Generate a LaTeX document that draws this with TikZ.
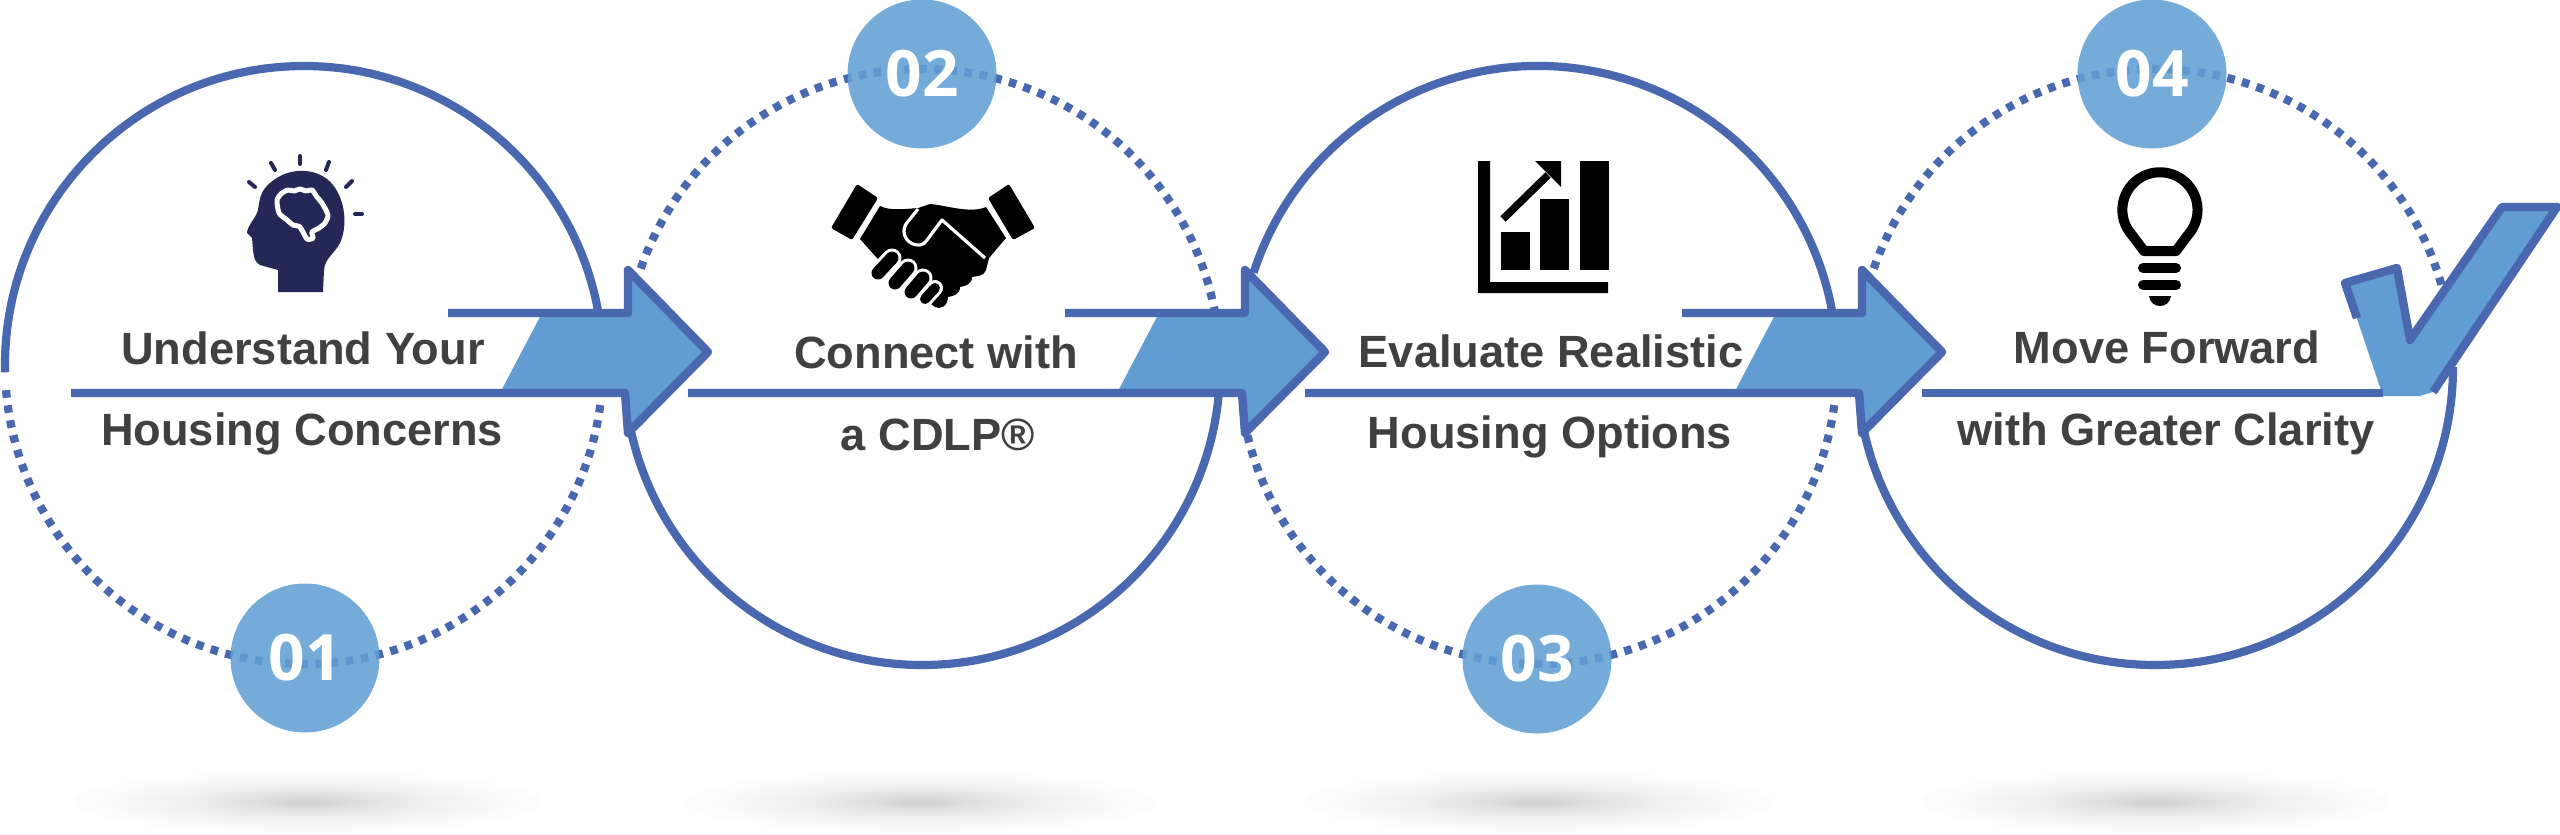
\documentclass[tikz,border=0pt]{standalone}
\usepackage{fontspec}
\setmainfont{Liberation Sans}
\newfontfamily\badgefont{Open Sans}
\usetikzlibrary{arrows.meta,positioning}
\definecolor{ringblue}{HTML}{4A68B0}
\definecolor{arrowblue}{HTML}{619DD2}
\definecolor{badgeblue}{HTML}{629FD3}
\definecolor{labelgrey}{HTML}{404040}
\definecolor{headnavy}{HTML}{252856}
\pgfdeclareradialshading{softblob}{\pgfpoint{0bp}{0bp}}{color(0bp)=(black!19); color(5bp)=(black!13); color(13bp)=(black!6); color(22bp)=(black!1.5); color(30bp)=(white); color(50bp)=(white)}
\tikzset{
 solidring/.style={draw=ringblue,line width=2.05pt},
 dotring/.style={draw=ringblue,line width=2.05pt,dash pattern=on 1.9pt off 1.9pt},
 arrowline/.style={draw=ringblue,line width=2.1pt,line join=round},
 steplabel/.style={anchor=base,inner sep=0pt,text=labelgrey,font=\fontsize{11.3}{13}\selectfont\bfseries},
 badge/.style={circle,minimum size=37.25pt,inner sep=0pt,fill=badgeblue,fill opacity=0.88,text opacity=1,text=white,font=\fontsize{16}{18}\selectfont\badgefont\bfseries},
 groundshadow/.style={shading=softblob}
}
\begin{document}
\begin{tikzpicture}[x=0.25pt,y=-0.25pt]
 \useasboundingbox (0,0) rectangle (2560,835);
 % shadows under the rings
 \foreach \x in {307,920,1538,2155} {
  \shade[groundshadow] (\x,802) ellipse [x radius=235,y radius=31];
 }
 % rings, arcs are cut where the arrows pass
 \draw[solidring] (304,365) ++(178.6:299) arc [start angle=178.6,end angle=350.3,radius=299];
 \draw[dotring] (304,365) ++(7.7:299) arc [start angle=7.7,end angle=176,radius=299];
 \draw[dotring] (922,367) ++(199.3:298) arc [start angle=199.3,end angle=349.3,radius=298];
 \draw[solidring] (922,367) ++(5:298) arc [start angle=5,end angle=167.3,radius=298];
 \draw[solidring] (1538,365) ++(198:299) arc [start angle=198,end angle=350.3,radius=299];
 \draw[dotring] (1538,365) ++(7.7:299) arc [start angle=7.7,end angle=166.4,radius=299];
 \draw[dotring] (2155,367) ++(199.3:298) arc [start angle=199.3,end angle=344.7,radius=298];
 \draw[solidring] (2155,367) ++(0:298) arc [start angle=0,end angle=167.3,radius=298];
 % arrows
 \foreach \d in {0,617,1234} {
  \begin{scope}[shift={(\d,0)}]
   \fill[arrowblue] (542,313)--(628,313)--(628,270)--(708,352)--(628,433)--(625,393)--(500,393)--cycle;
   \draw[arrowline] (448,313)--(628,313)--(628,270)--(708,352)--(628,433)--(625,393)--(71,393);
  \end{scope}
 }
 % check mark and last line
 \fill[arrowblue] (2345,283)--(2397,268)--(2410,340)--(2502,207)--(2557,207)--(2433,392)--(2420,396)--(2383,396)--cycle;
 \draw[ringblue,line width=2.1pt] (1922,393)--(2383,393);
 \draw[arrowline] (2357,318)--(2345,283)--(2397,268)--(2410,340)--(2502,207)--(2557,207)--(2433,392);
 % badges
 \node[badge] (badge1) at (305,658) {01};
 \node[badge] (badge2) at (922,74) {02};
 \node[badge] (badge3) at (1537,659) {03};
 \node[badge] (badge4) at (2152,74) {04};
 % labels
 \node[steplabel] (step1a) at (303,364) {Understand Your};
 \node[steplabel] (step1b) at (302,445) {Housing Concerns};
 \node[steplabel] (step2a) at (936,368) {Connect with};
 \node[steplabel] (step2b) at (938,450) {a CDLP®};
 \node[steplabel] (step3a) at (1551,367) {Evaluate Realistic};
 \node[steplabel] (step3b) at (1550,448) {Housing Options};
 \node[steplabel] (step4a) at (2167,363) {Move Forward};
 \node[steplabel] (step4b) at (2166,445) {with Greater Clarity};
 % head
 \fill[headnavy] (278,292)--(278,270)--(260,265) .. controls (254,262) and (254,256) .. (253,250)
  --(252,238)--(247,233) .. controls (247,226) and (256,218) .. (258,210)
  .. controls (260,195) and (262,190) .. (270,183) .. controls (290,165) and (320,168) .. (333,185)
  .. controls (345,200) and (348,225) .. (340,243) .. controls (335,253) and (325,258) .. (324,270)
  --(323,292)--cycle;
 \draw[white,line width=1.25pt,line join=round] plot[smooth cycle,tension=0.4] coordinates {(277,200) (282,193) (288,190) (294,191) (300,189) (306,191) (312,190) (317,197) (322,203) (328,215) (325,223) (319,228) (312,232) (313,238) (307,239) (300,227) (293,225) (287,220) (279,213)};
 \foreach \a/\b/\c/\e in {300/156/300/164,271/163/275/170,329/162/326/170,249/182/255/187,352/181/346/187,355/214/362/214} {
  \draw[headnavy,line width=1pt,line cap=round] (\a,\b)--(\c,\e);
 }
 % handshake
 \fill[black,rounded corners=0.5pt] (857,184)--(878,198)--(852,240)--(831,228)--cycle;
 \fill[black,rounded corners=0.5pt] (1009,184)--(1035,228)--(1013,240)--(988,198)--cycle;
 \fill[black] (880,206) .. controls (890,211) and (905,209) .. (918,208) -- (930,204)
  .. controls (945,205) and (970,214) .. (986,207)--(1006,238)--(989,258)--(986,270)
  .. controls (984,276) and (978,276) .. (972,277) .. controls (972,284) and (966,286) .. (960,287)
  .. controls (960,294) and (954,296) .. (948,297) .. controls (948,306) and (940,310) .. (935,307)
  --(920,296)--(876,257)--(860,239)--cycle;
 \foreach \a/\b/\c/\e/\w in {878/273/892/258/3.25,895/283/908/268/3.25,911/292/923/278/3.25,925/299/935/288/2.5} {
  \draw[white,line width=\w pt+1.5pt,line cap=round] (\a,\b)--(\c,\e);
  \draw[black,line width=\w pt,line cap=round] (\a,\b)--(\c,\e);
 }
 \draw[white,line width=0.8pt,line join=round] (918,209)--(906,224) .. controls (900,234) and (908,246) .. (920,245) .. controls (925,245) and (928,238) .. (942,220)--(985,258);
 % bar chart
 \fill[black] (1478,161)--(1490,161)--(1490,282)--(1608,282)--(1608,293)--(1478,293)--cycle;
 \foreach \a/\b in {1501/232,1540/199,1580/161} {
  \fill[black] (\a,\b) rectangle ++(28.5,{270-\b});
 }
 \draw[black,line width=1.9pt] (1503,219)--(1548,175);
 \fill[black] (1535,161)--(1561,161)--(1561,187)--cycle;
 % bulb
 \draw[black,line width=2.5pt,line join=round] (2144,251)--(2132,235) arc [start angle=138,end angle=402,radius=37.6]--(2176,251)--cycle;
 \foreach \y in {268,285} {
  \draw[black,line width=2.5pt,line cap=round] (2143,\y)--(2176,\y);
 }
 \fill[black] (2149,296)--(2171,296) .. controls (2170,303) and (2165,306) .. (2160,306) .. controls (2155,306) and (2150,303) .. (2149,296)--cycle;
\end{tikzpicture}
\end{document}
